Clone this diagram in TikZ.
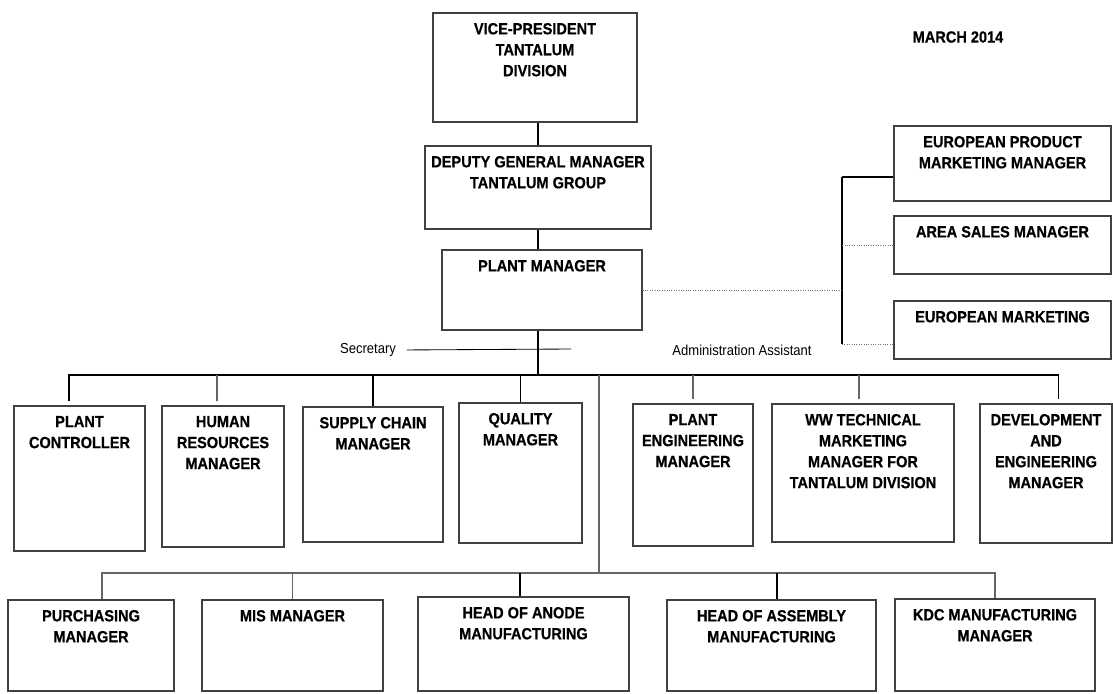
\documentclass[tikz,border=0pt]{standalone}
\usepackage{fontspec}
\setmainfont{Liberation Sans}[FakeStretch=0.9, BoldFeatures={FakeBold=0.5}]
\tikzstyle{post} = [rectangle, draw=black!75, line width=0.9pt, inner sep=0pt]
\tikzstyle{ttl} = [anchor=north, align=center, inner sep=0pt, yshift=-0.26cm, font=\bfseries\fontsize{11.5}{14.9}\selectfont]
\tikzstyle{note} = [inner sep=2pt, font=\fontsize{10.3}{12}\selectfont]
\tikzstyle{link} = [line width=1.1pt]
\tikzstyle{thinlink} = [line width=0.8pt, black!60]
\tikzstyle{dotlink} = [densely dotted, line width=0.7pt, black!55]
\tikzstyle{drop} = [shorten <=0.1cm]

\begin{document}
\begin{tikzpicture}[x=0.025cm, y=-0.025cm]
    \useasboundingbox (0,0) rectangle (1113,693);
    % top of the chart
    \node [post, minimum width=5.1cm, minimum height=2.725cm, label={[ttl]north:{VICE-PRESIDENT\\TANTALUM\\DIVISION}}] at (535,67.5) (vp) {};
    \node [post, minimum width=5.65cm, minimum height=2.075cm, label={[ttl]north:{DEPUTY GENERAL MANAGER\\TANTALUM GROUP}}] at (538,187.5) (dgm) {};
    \node [post, minimum width=5cm, minimum height=2cm, label={[ttl]north:{PLANT MANAGER}}] at (542,290) (pm) {};
    \node [font=\bfseries\fontsize{11.5}{14.9}\selectfont] at (958,37) (date) {MARCH 2014};
    % marketing side
    \node [post, minimum width=5.425cm, minimum height=1.875cm, label={[ttl]north:{EUROPEAN PRODUCT\\MARKETING MANAGER}}] at (1002.5,163.5) (epm) {};
    \node [post, minimum width=5.425cm, minimum height=1.45cm, label={[ttl]north:{AREA SALES MANAGER}}] at (1002.5,245) (asm) {};
    \node [post, minimum width=5.425cm, minimum height=1.45cm, label={[ttl]north:{EUROPEAN MARKETING}}] at (1002.5,330) (em) {};
    \node [note] at (368,350) (sec) {Secretary};
    \node [note] at (742,350) (adm) {Administration Assistant};
    % first row
    \node [post, minimum width=3.275cm, minimum height=3.625cm, label={[ttl]north:{PLANT\\CONTROLLER}}] at (79.5,478.5) (pc) {};
    \node [post, minimum width=3.05cm, minimum height=3.525cm, label={[ttl]north:{HUMAN\\RESOURCES\\MANAGER}}] at (223,476.5) (hr) {};
    \node [post, minimum width=3.5cm, minimum height=3.375cm, label={[ttl]north:{SUPPLY CHAIN\\MANAGER}}] at (373,474.5) (scm) {};
    \node [post, minimum width=3.075cm, minimum height=3.5cm, label={[ttl]north:{QUALITY\\MANAGER}}] at (520.5,473) (qm) {};
    \node [post, minimum width=3cm, minimum height=3.55cm, label={[ttl]north:{PLANT\\ENGINEERING\\MANAGER}}] at (693,475) (pem) {};
    \node [post, minimum width=4.55cm, minimum height=3.45cm, label={[ttl]north:{WW TECHNICAL\\MARKETING\\MANAGER FOR\\TANTALUM DIVISION}}] at (863,473) (ww) {};
    \node [post, minimum width=3.3cm, minimum height=3.475cm, label={[ttl]north:{DEVELOPMENT\\AND\\ENGINEERING\\MANAGER}}] at (1046,473.5) (dem) {};
    % second row
    \node [post, minimum width=4.15cm, minimum height=2.275cm, label={[ttl]north:{PURCHASING\\MANAGER}}] at (91,645.5) (pur) {};
    \node [post, minimum width=4.525cm, minimum height=2.275cm, label={[ttl]north:{MIS MANAGER}}] at (292.5,645.5) (mis) {};
    \node [post, minimum width=5.275cm, minimum height=2.35cm, label={[ttl]north:{HEAD OF ANODE\\MANUFACTURING}}] at (523.5,644) (ham) {};
    \node [post, minimum width=5.225cm, minimum height=2.275cm, label={[ttl]north:{HEAD OF ASSEMBLY\\MANUFACTURING}}] at (771.5,645.5) (hasm) {};
    \node [post, minimum width=5cm, minimum height=2.3cm, label={[ttl]north:{KDC MANUFACTURING\\MANAGER}}] at (995,645) (kdc) {};

    \coordinate (b1) at (538,375);
    \coordinate (tap) at (599,375);
    \coordinate (b2) at (599,573);
    \coordinate (secend) at (571,349);
    \coordinate (bt) at (842,177);
    \coordinate (bb) at (842,344);

    \draw [link] (dgm.north) -- (dgm.north |- vp.south);
    \draw [link] (dgm.south) -- (dgm.south |- pm.north);
    \draw [link] (pm.south -| b1) -- (b1);
    \draw [line width=0.6pt, shorten <=0.2cm] (sec.east) -- (secend);
    % marketing bar
    \draw [link] (bt) -- (bb);
    \draw [link] (bt) -- (bt -| epm.west);
    \draw [dotlink] (asm.west) -- (asm.west -| bt);
    \draw [dotlink] (bb) -- (bb -| em.west);
    \draw [dotlink] (pm.east) -- (pm.east -| bt);
    % first row
    \draw [link, drop] ([xshift=-0.26cm]pc.north) |- (b1);
    \draw [link, drop] ([xshift=0.31cm]dem.north) |- (b1);
    \draw [thinlink, drop] ([xshift=-0.15cm]hr.north) -- ([xshift=-0.15cm]hr.north |- b1);
    \draw [link] (scm.north) -- (scm.north |- b1);
    \draw [link] (qm.north) -- (qm.north |- b1);
    \draw [thinlink, drop] (pem.north) -- (pem.north |- b1);
    \draw [thinlink, drop] ([xshift=-0.1cm]ww.north) -- ([xshift=-0.1cm]ww.north |- b1);
    \draw [thinlink] (tap) -- (b2);
    % second row
    \draw [thinlink] ([xshift=0.275cm]pur.north) |- (b2);
    \draw [thinlink] (kdc.north) |- (b2);
    \draw [thinlink] (mis.north) -- (mis.north |- b2);
    \draw [link] ([xshift=-0.09cm]ham.north) -- ([xshift=-0.09cm]ham.north |- b2);
    \draw [link] ([xshift=0.14cm]hasm.north) -- ([xshift=0.14cm]hasm.north |- b2);
\end{tikzpicture}
\end{document}
